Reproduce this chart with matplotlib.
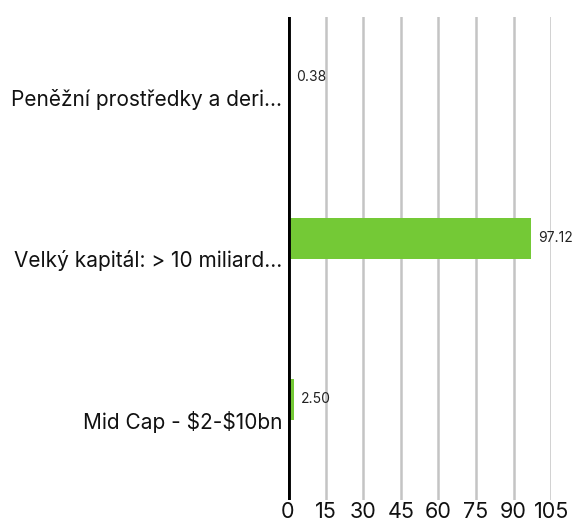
import matplotlib
matplotlib.use("Agg")
import matplotlib.pyplot as plt
from matplotlib.transforms import offset_copy

categories = ["Peněžní prostředky a deri...", "Velký kapitál: > 10 miliard...", "Mid Cap - \\$2-\\$10bn"]
values = [0.38, 97.12, 2.50]
value_labels = ["0.38", "97.12", "2.50"]
xticks = [0, 15, 30, 45, 60, 75, 90, 105]

plt.rcParams['font.family'] = ['Inter', 'DejaVu Sans']

fig = plt.figure(figsize=(5.76, 5.21), dpi=100)
ax = fig.add_axes([0.5, 0.040, 0.957 - 0.5, 0.967 - 0.040])

ypos = list(range(len(categories)))
bar_h = 0.255
bar_y = [y - bar_h / 2 for y in ypos]
ax.barh(bar_y, values, height=bar_h, color="#74c936", zorder=3)

ax.set_xlim(0, 105)
ax.set_ylim(len(categories) - 0.5, -0.5)
ax.set_yticks(ypos)
ax.set_yticklabels(categories, fontsize=15, color="#111111")
ax.set_xticks(xticks)
ax.set_xticklabels([str(t) for t in xticks], fontsize=15.5, color="#111111")
ax.tick_params(axis='both', length=0)
ax.tick_params(axis='y', pad=4)
ax.tick_params(axis='x', pad=1.5)

for s in ax.spines.values():
    s.set_visible(False)
for t in xticks[1:]:
    ax.axvline(t, color="#c4c4c4", lw=1.8, zorder=1)
ax.axvline(0, color="black", lw=3.5, zorder=4)

for y, v, lab in zip(bar_y, values, value_labels):
    tr = offset_copy(ax.transData, fig=fig, x=7, y=0, units='dots')
    ax.text(v, y, lab, transform=tr, fontsize=10, va='center', ha='left', color="#222222", zorder=5)

fig.savefig("out.png", dpi=100)
